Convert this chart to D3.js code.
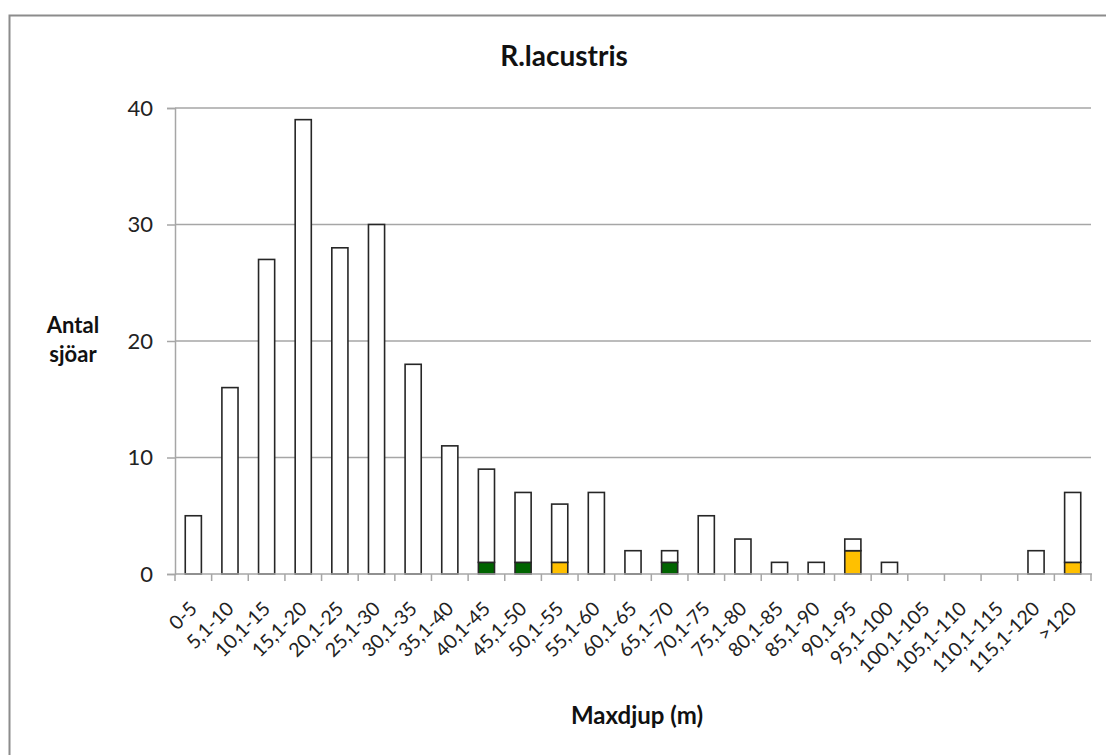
<!DOCTYPE html>
<html>
<head>
<meta charset="utf-8">
<script src="https://cdn.jsdelivr.net/npm/d3@7"></script>
<style>
  html, body { margin: 0; padding: 0; background: #fff; }
  svg { display: block; font-family: Lato, "Open Sans", sans-serif; }
</style>
</head>
<body>
<svg id="chart" width="1106" height="755"></svg>
<script>
// Depth classes (maximum depth, m)
const categories = ["0-5", "5,1-10", "10,1-15", "15,1-20", "20,1-25", "25,1-30", "30,1-35",
  "35,1-40", "40,1-45", "45,1-50", "50,1-55", "55,1-60", "60,1-65", "65,1-70", "70,1-75",
  "75,1-80", "80,1-85", "85,1-90", "90,1-95", "95,1-100", "100,1-105", "105,1-110",
  "110,1-115", "115,1-120", ">120"];

// Number of lakes per class, split into three stacked groups
const greenCounts  = [0, 0, 0, 0, 0, 0, 0, 0, 1, 1, 0, 0, 0, 1, 0, 0, 0, 0, 0, 0, 0, 0, 0, 0, 0];
const orangeCounts = [0, 0, 0, 0, 0, 0, 0, 0, 0, 0, 1, 0, 0, 0, 0, 0, 0, 0, 2, 0, 0, 0, 0, 0, 1];
const whiteCounts  = [5, 16, 27, 39, 28, 30, 18, 11, 8, 6, 5, 7, 2, 1, 5, 3, 1, 1, 1, 1, 0, 0, 0, 2, 6];

const yTicks = [0, 10, 20, 30, 40];
const seriesKeys = ["green", "orange", "white"];
const seriesColors = { green: "#006400", orange: "#FFC000", white: "#FFFFFF" };

const svg = d3.select("#chart");

// Outer chart frame
svg.append("rect")
  .attr("x", 9.5).attr("y", 15.5)
  .attr("width", 1120).attr("height", 760)
  .attr("fill", "none").attr("stroke", "#8c8c8c").attr("stroke-width", 2);

const plot = { left: 175, right: 1091, top: 108, bottom: 574 };

const x = d3.scaleBand().domain(categories)
  .range([plot.left, plot.right]).paddingInner(0.56).paddingOuter(0.28);
const band = (plot.right - plot.left) / categories.length;
const y = d3.scaleLinear().domain([0, 40]).range([plot.bottom, plot.top]);

// Horizontal gridlines
svg.append("g").selectAll("line")
  .data(yTicks.filter(t => t > 0))
  .join("line")
  .attr("x1", plot.left).attr("x2", plot.right)
  .attr("y1", d => y(d)).attr("y2", d => y(d))
  .attr("stroke", "#a6a6a6").attr("stroke-width", 1.5);

// Y axis
const yAxis = svg.append("g")
  .attr("transform", `translate(${plot.left},0)`)
  .call(d3.axisLeft(y).tickValues(yTicks).tickSize(8).tickPadding(14).tickFormat(d3.format("d")));
yAxis.select(".domain").attr("stroke", "#a6a6a6").attr("stroke-width", 1.5);
yAxis.selectAll(".tick line").attr("stroke", "#a6a6a6").attr("stroke-width", 1.5);
yAxis.selectAll(".tick text")
  .attr("font-family", "Lato, sans-serif").attr("font-size", 22).attr("fill", "#222");

// Stacked bars
const rows = categories.map((c, i) => ({
  cat: c, green: greenCounts[i], orange: orangeCounts[i], white: whiteCounts[i]
}));
const stacked = d3.stack().keys(seriesKeys)(rows);

svg.append("g").selectAll("g")
  .data(stacked)
  .join("g")
  .attr("fill", s => seriesColors[s.key])
  .selectAll("rect")
  .data(s => s.filter(d => d[1] - d[0] > 0))
  .join("rect")
  .attr("x", d => x(d.data.cat))
  .attr("width", x.bandwidth())
  .attr("y", d => y(d[1]))
  .attr("height", d => y(d[0]) - y(d[1]))
  .attr("stroke", "#262626").attr("stroke-width", 1.6);

// X axis baseline and category boundary ticks
svg.append("line")
  .attr("x1", plot.left).attr("x2", plot.right + 1)
  .attr("y1", plot.bottom).attr("y2", plot.bottom)
  .attr("stroke", "#a6a6a6").attr("stroke-width", 1.5);
svg.append("g").selectAll("line")
  .data(d3.range(categories.length + 1))
  .join("line")
  .attr("x1", i => plot.left + i * band).attr("x2", i => plot.left + i * band)
  .attr("y1", plot.bottom).attr("y2", plot.bottom + 7)
  .attr("stroke", "#a6a6a6").attr("stroke-width", 1.5);

// Rotated category labels
svg.append("g").selectAll("text")
  .data(categories)
  .join("text")
  .attr("transform", d => `translate(${x(d) + x.bandwidth() / 2 + 5},${plot.bottom + 36}) rotate(-45)`)
  .attr("text-anchor", "end")
  .attr("font-size", 19.5)
  .attr("fill", "#222")
  .text(d => d);

// Titles
svg.append("text")
  .attr("x", 564).attr("y", 66)
  .attr("text-anchor", "middle")
  .attr("font-size", 28).attr("font-weight", "bold").attr("fill", "#111")
  .text("R.lacustris");

svg.append("text")
  .attr("x", 73).attr("y", 333)
  .attr("text-anchor", "middle")
  .attr("font-size", 22).attr("font-weight", "bold").attr("fill", "#111")
  .selectAll("tspan")
  .data(["Antal", "sjöar"])
  .join("tspan")
  .attr("x", 73)
  .attr("dy", (d, i) => i === 0 ? 0 : 29)
  .text(d => d);

svg.append("text")
  .attr("x", 637).attr("y", 724)
  .attr("text-anchor", "middle")
  .attr("font-size", 24).attr("font-weight", "bold").attr("fill", "#111")
  .text("Maxdjup (m)");
</script>
</body>
</html>
